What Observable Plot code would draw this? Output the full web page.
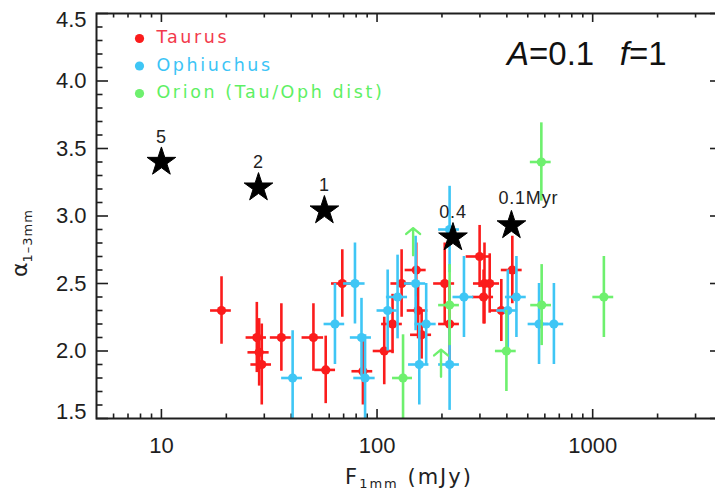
<!DOCTYPE html>
<html>
<head>
<meta charset="utf-8">
<script src="https://cdn.jsdelivr.net/npm/d3@7"></script>
<script src="https://cdn.jsdelivr.net/npm/@observablehq/plot@0.6"></script>
<style>
  body { margin: 0; background: #fff; }
  svg { display: block; }
  .hershey text { letter-spacing: 2.6px; }
  .agelabel text { letter-spacing: 0.8px; }
</style>
</head>
<body>
<div id="chart"></div>
<script>
// Taurus: 1 mm flux (mJy), flux error, spectral index alpha(1-3mm), alpha error
const tauF    = [19, 27.7, 28.4, 29.2, 36, 50.7, 57.8, 69, 86, 108, 118, 130, 152, 155, 161, 206, 217, 299, 315, 333, 312, 377, 424];
const tauFerr = [2.1, 3.0, 3.2, 3.2, 4.0, 5.8, 6.4, 7.5, 9.5, 12, 13, 14, 17, 17, 18, 23, 24, 40, 35, 37, 35, 42, 47];
const tauA    = [2.30, 2.10, 1.99, 1.90, 2.10, 2.10, 1.86, 2.50, 1.85, 2.00, 2.20, 2.50, 2.60, 2.30, 2.12, 2.50, 2.20, 2.70, 2.50, 2.50, 2.40, 2.30, 2.60];
const tauAerr = [0.25, 0.26, 0.25, 0.30, 0.25, 0.25, 0.25, 0.25, 0.25, 0.25, 0.22, 0.25, 0.20, 0.21, 0.18, 0.30, 0.28, 0.23, 0.30, 0.22, 0.20, 0.23, 0.25];

// Ophiuchus
const ophF    = [40.6, 63.8, 79, 84.7, 88, 112, 124.5, 151, 157, 169, 217, 217, 253, 404, 443, 564, 661];
const ophFerr = [4.5, 7, 9, 9.5, 10, 12, 14, 17, 17, 19, 24, 24, 28, 45, 49, 62, 73];
const ophA    = [1.80, 2.20, 2.50, 2.10, 1.80, 2.30, 2.40, 2.50, 1.90, 2.20, 2.90, 1.90, 2.40, 2.30, 2.40, 2.20, 2.20];
const ophAerr = [0.35, 0.30, 0.30, 0.29, 0.32, 0.30, 0.31, 0.35, 0.30, 0.30, 0.32, 0.34, 0.30, 0.30, 0.30, 0.30, 0.30];

// Orion, scaled to the Taurus/Ophiuchus distance
const oriF    = [132, 217, 398, 578, 580, 1127];
const oriFerr = [14, 24, 44, 64, 64, 125];
const oriA    = [1.80, 2.34, 2.00, 3.40, 2.34, 2.40];
const oriAerr = [0.32, 0.30, 0.30, 0.29, 0.30, 0.30];

// Orion lower limits on alpha
const limF = [147, 198];
const limA = [2.71, 1.81];

// Model track (A=0.1, f=1): ages along the sequence
const ageLabels = ["5", "2", "1", "0.4", "0.1Myr"];
const ageF = [10, 28.2, 57, 225, 420];
const ageA = [3.40, 3.21, 3.04, 2.84, 2.93];

// Axis ticks
const xMajor = [10, 100, 1000];
const xMinor = [6, 7, 8, 9, 20, 30, 40, 50, 60, 70, 80, 90, 200, 300, 400, 500, 600, 700, 800, 900, 2000, 3000];
const yMajor = [1.5, 2.0, 2.5, 3.0, 3.5, 4.0, 4.5];
const yMinor = [1.6, 1.7, 1.8, 1.9, 2.1, 2.2, 2.3, 2.4, 2.6, 2.7, 2.8, 2.9, 3.1, 3.2, 3.3, 3.4, 3.6, 3.7, 3.8, 3.9, 4.1, 4.2, 4.3, 4.4];

const legendNames = ["Taurus", "Ophiuchus", "Orion (Tau/Oph dist)"];
const markColors = ["#fb1c1c", "#3fc6f5", "#6ef06e"];
const textColors = ["#f23a4c", "#3cc4f6", "#5ef064"];

const rows = (F, dF, A, dA) => F.map((f, i) => ({F: f, dF: dF[i], a: A[i], da: dA[i]}));
const series = [rows(tauF, tauFerr, tauA, tauAerr), rows(ophF, ophFerr, ophA, ophAerr), rows(oriF, oriFerr, oriA, oriAerr)];
const limits = limF.map((f, i) => ({F: f, a: limA[i]}));
const ages = ageF.map((f, i) => ({F: f, a: ageA[i], label: ageLabels[i]}));

const W = 715, H = 496;
const mL = 96, mR = -7, mT = 13, mB = 78;
const innerW = W - mL - mR;
const innerH = H - mT - mB;
const axisInk = "#1e1e1e";
const tickFont = "Liberation Sans, Arial, Helvetica, sans-serif";
const vecFont = "DejaVu Sans, Verdana, sans-serif";

const errorMarks = (data, color) => [
  Plot.ruleX(data, {x: "F", y1: d => d.a - d.da, y2: d => d.a + d.da, stroke: color, strokeWidth: 2.6, clip: true}),
  Plot.ruleY(data, {y: "a", x1: d => d.F - d.dF, x2: d => d.F + d.dF, stroke: color, strokeWidth: 2.6, clip: true}),
  Plot.dot(data, {x: "F", y: "a", r: 4.6, fill: color, clip: true})
];

const plot = Plot.plot({
  width: W,
  height: H,
  marginLeft: mL,
  marginRight: mR,
  marginTop: mT,
  marginBottom: mB,
  style: {background: "#fff", overflow: "visible"},
  x: {type: "log", domain: [5, 4000], axis: null},
  y: {domain: [1.5, 4.5], axis: null},
  marks: [
    // inward ticks on all four sides
    Plot.tickX(xMajor, {x: d => d, insetTop: innerH - 9, stroke: axisInk, strokeWidth: 1.6}),
    Plot.tickX(xMajor, {x: d => d, insetBottom: innerH - 9, stroke: axisInk, strokeWidth: 1.6}),
    Plot.tickX(xMinor, {x: d => d, insetTop: innerH - 4.5, stroke: axisInk, strokeWidth: 1.6}),
    Plot.tickX(xMinor, {x: d => d, insetBottom: innerH - 4.5, stroke: axisInk, strokeWidth: 1.6}),
    Plot.tickY(yMajor, {y: d => d, insetRight: innerW - 12, stroke: axisInk, strokeWidth: 1.6}),
    Plot.tickY(yMajor, {y: d => d, insetLeft: innerW - 12, stroke: axisInk, strokeWidth: 1.6}),
    Plot.tickY(yMinor, {y: d => d, insetRight: innerW - 6.5, stroke: axisInk, strokeWidth: 1.6}),
    Plot.tickY(yMinor, {y: d => d, insetLeft: innerW - 6.5, stroke: axisInk, strokeWidth: 1.6}),

    // tick labels
    Plot.text(xMajor, {x: d => d, frameAnchor: "bottom", dy: 27, lineAnchor: "middle", text: d => String(d),
      fontSize: 22, fontFamily: tickFont, fill: axisInk}),
    Plot.text(yMajor.slice(1, -1), {y: d => d, frameAnchor: "left", dx: -10, textAnchor: "end", lineAnchor: "middle",
      text: d => d.toFixed(1), fontSize: 22, fontFamily: tickFont, fill: axisInk}),
    Plot.text(yMajor.slice(-1), {y: d => d, frameAnchor: "left", dx: -10, dy: 6, textAnchor: "end", lineAnchor: "middle",
      text: d => d.toFixed(1), fontSize: 22, fontFamily: tickFont, fill: axisInk}),
    Plot.text(yMajor.slice(0, 1), {y: d => d, frameAnchor: "left", dx: -10, dy: -7, textAnchor: "end", lineAnchor: "middle",
      text: d => d.toFixed(1), fontSize: 22, fontFamily: tickFont, fill: axisInk}),

    // measurements with error bars
    ...errorMarks(series[0], markColors[0]),
    ...errorMarks(series[1], markColors[1]),
    ...errorMarks(series[2], markColors[2]),
    Plot.arrow(limits, {x: "F", y1: "a", y2: d => d.a + 0.2, stroke: markColors[2], strokeWidth: 2.4,
      headLength: 8, headAngle: 100}),

    // model sequence
    Plot.dot(ages, {x: "F", y: "a", symbol: "star", r: 9, fill: "#000", stroke: "#000", strokeWidth: 1}),
    Plot.text(ages.slice(0, 4), {x: "F", y: "a", text: "label", dy: -25, fontSize: 18, fontFamily: tickFont,
      fill: "#222", className: "agelabel"}),
    Plot.text(ages.slice(4), {x: "F", y: "a", text: "label", dy: -27, dx: -13, textAnchor: "start", fontSize: 18,
      fontFamily: tickFont, fill: "#222", className: "agelabel"}),

    // legend
    ...legendNames.flatMap((name, i) => [
      Plot.dot([name], {frameAnchor: "top-left", dx: 43, dy: 25 + i * 27.5, r: 4.6, fill: markColors[i]}),
      Plot.text([name], {frameAnchor: "top-left", dx: 60, dy: 24 + i * 27.5, text: d => d, textAnchor: "start",
        lineAnchor: "middle", fontSize: 17.5, fontFamily: vecFont, fill: textColors[i], className: "hershey"})
    ]),

    Plot.frame({stroke: axisInk, strokeWidth: 2})
  ]
});

const svg = d3.select(plot);

// x-axis title: F_1mm (mJy)
const xt = svg.append("text")
  .attr("x", 409).attr("y", 484)
  .attr("text-anchor", "middle")
  .attr("font-family", vecFont).attr("font-size", 21).attr("fill", "#222")
  .style("letter-spacing", "2px");
xt.append("tspan").text("F");
xt.append("tspan").attr("font-size", 13).attr("dy", 4).text("1mm");
xt.append("tspan").attr("dy", -4).text(" (mJy)");

// y-axis title: alpha_1-3mm
const yt = svg.append("text")
  .attr("transform", "translate(27,243) rotate(-90)")
  .attr("text-anchor", "middle")
  .attr("font-family", vecFont).attr("font-size", 22).attr("fill", "#222");
yt.append("tspan").text("α");
yt.append("tspan").attr("font-size", 13).attr("dy", 5).style("letter-spacing", "1px").text("1–3mm");

// model parameters
const pt = svg.append("text")
  .attr("x", 507).attr("y", 65)
  .attr("text-anchor", "start")
  .attr("font-family", tickFont).attr("font-size", 33).attr("fill", "#111");
pt.append("tspan").attr("font-style", "italic").text("A");
pt.append("tspan").text("=0.1\u2002 ");
pt.append("tspan").attr("font-style", "italic").text("f");
pt.append("tspan").text("=1");

document.getElementById("chart").appendChild(plot);
</script>
</body>
</html>
